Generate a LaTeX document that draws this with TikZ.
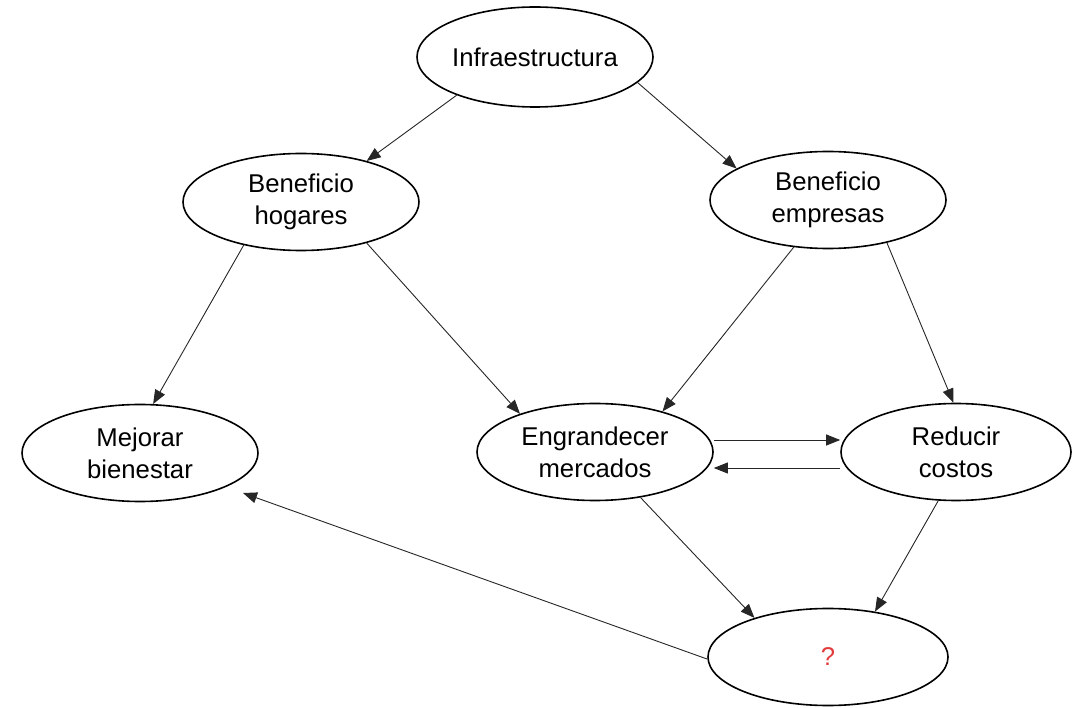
\documentclass[tikz,border=0pt]{standalone}
\usepackage{fontspec}
\setmainfont{Liberation Sans}
\usetikzlibrary{shapes.geometric,arrows.meta}
\definecolor{qred}{RGB}{225,60,60}
\begin{document}
\begin{tikzpicture}[x=1pt,y=-1pt,
  ell/.style={ellipse,draw,line width=1.6pt,minimum width=236pt,minimum height=97pt,
    inner sep=0pt,align=center,font=\fontsize{25.7}{32}\selectfont},
  arr/.style={line width=0.9pt,draw=black!85,-{Triangle[length=14pt,width=11pt]}}]
\useasboundingbox (0,0) rectangle (1072,708);
\node[ell,minimum height=100pt] (infra) at (535,57) {Infraestructura};
\node[ell] (hog) at (301,202) {Beneficio\\hogares};
\node[ell] (emp) at (828,200) {Beneficio\\empresas};
\node[ell] (mej) at (140,453) {Mejorar\\bienestar};
\node[ell] (eng) at (595,452) {Engrandecer\\mercados};
\node[ell,minimum width=230pt] (red) at (956,452) {Reducir\\costos};
\node[ell,minimum width=240pt,text=qred] (q) at (828,657) {?};
\coordinate (mejtip) at (243,493);

\draw[arr] (infra.206) -- (hog.32);
\draw[arr] (infra.-14) -- (emp.161);
\draw[arr] (hog.217) -- (mej.75);
\draw[arr] (hog.-32) -- (eng.153);
\draw[arr] (emp.234) -- (eng.31);
\draw[arr] (emp.-36) -- (red.93);
\draw[arr] ([yshift=12pt]eng.east) -- ([yshift=12pt]red.west);
\draw[arr] ([yshift=-16pt]red.west) -- ([yshift=-16pt]eng.east);
\draw[arr] (eng.-45) -- (q.152);
\draw[arr] (red.250) -- (q.44);
\draw[arr] (q.181) -- (mejtip);
\end{tikzpicture}
\end{document}
